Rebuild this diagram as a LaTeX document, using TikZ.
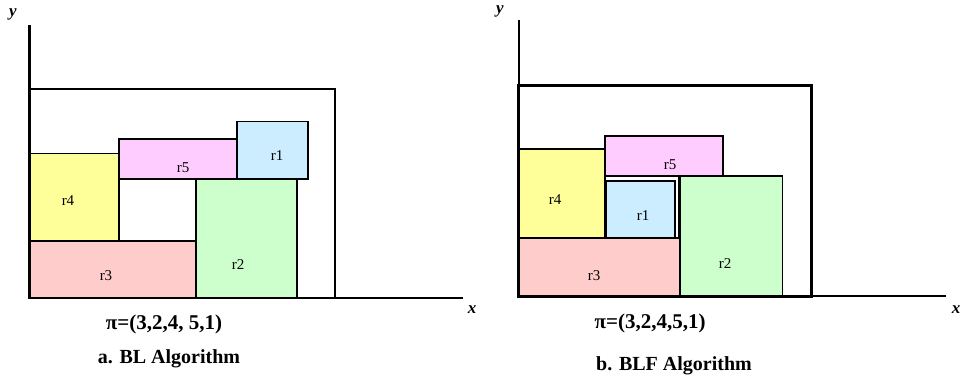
\documentclass[tikz,border=0pt]{standalone}
\usepackage{fontspec}
\setmainfont{Liberation Serif}
\begin{document}
\begin{tikzpicture}[x=1pt,y=-1pt,
  blk/.style={draw=black,line width=1.6pt},
  thinblk/.style={draw=black,line width=1.1pt},
  lbl/.style={font=\fontsize{15}{15}\selectfont,inner sep=0pt},
  axlbl/.style={font=\fontsize{17}{17}\selectfont\bfseries\itshape,inner sep=0pt},
  perm/.style={font=\fontsize{21}{21}\selectfont\bfseries,inner sep=0pt},
  captext/.style={font=\fontsize{20}{20}\selectfont\bfseries,inner sep=0pt}]
\definecolor{cR1}{HTML}{CCECFF}
\definecolor{cR2}{HTML}{CCFFCC}
\definecolor{cR3}{HTML}{FFCCCC}
\definecolor{cR4}{HTML}{FFFF99}
\definecolor{cR5}{HTML}{FFCCFF}
\useasboundingbox (0,0) rectangle (960,379);

% ---------- a. BL placement ----------
\coordinate (aO) at (29.5,298);
\coordinate (aY) at (29.5,25);
\coordinate (aX) at (463,298);
\fill[cR3] (29.5,241) rectangle (196,298);
\fill[cR4] (29.5,153.5) rectangle (119,241);
\fill[cR2] (196,179) rectangle (297,298);
\fill[cR5] (119,139) rectangle (237,179);
\fill[cR1] (237,121.5) rectangle (308,179);
\draw[thinblk] (29.5,241) rectangle (196,298);
\draw[thinblk] (29.5,153.5) rectangle (119,241);
\draw[blk] (196,179) rectangle (297,298);
\draw[blk] (119,139) rectangle (237,179);
\draw[blk] (237,121.5) rectangle (308,179);
\draw[line width=2pt] (29.5,89.5) rectangle (335,298);
\draw[line width=2.2pt] (aY) -- (aO) -- (aX);
\node[lbl] (a1) at (277,156) {r1};
\node[lbl] (a5) at (183,168) {r5};
\node[lbl] (a4) at (68,201) {r4};
\node[lbl] (a2) at (238,265) {r2};
\node[lbl] (a3) at (106,276) {r3};
\node[axlbl] (ay) at (13,14) {y};
\node[axlbl] (ax) at (472,310) {x};
\node[perm] (ap) at (164,324) {π=(3,2,4, 5,1)};
\node[captext] (ac) at (169,359) {a. BL Algorithm};

% ---------- b. BLF placement ----------
\coordinate (bO) at (519,296);
\coordinate (bY) at (519,20);
\coordinate (bX) at (946,296);
\fill[cR3] (518,238) rectangle (680,296);
\fill[cR4] (518,149) rectangle (605,238);
\fill[cR2] (680,176) rectangle (782.5,296);
\fill[cR5] (605,136) rectangle (723,176);
\fill[cR1] (606,181) rectangle (675,238);
\draw[thinblk] (518,238) rectangle (680,296);
\draw[blk] (518,149) rectangle (605,238);
\draw[blk] (680,176) rectangle (782.5,296);
\draw[blk] (605,136) rectangle (723,176);
\draw[line width=1.4pt] (605,176) -- (679,176) -- (679,238);
\draw[blk] (606,238) -- (606,181) -- (675,181) -- (675,238);
\draw[line width=1.4pt] (bY) -- (519,86);
\draw[line width=3pt] (518,86) rectangle (811.5,296);
\draw[line width=2.6pt] (bO) -- (bX);
\node[lbl] (b1) at (643,216) {r1};
\node[lbl] (b5) at (670,165) {r5};
\node[lbl] (b4) at (555,200) {r4};
\node[lbl] (b2) at (725,264) {r2};
\node[lbl] (b3) at (594,276) {r3};
\node[axlbl] (by) at (500,11) {y};
\node[axlbl] (bx) at (956,310) {x};
\node[perm] (bp) at (650,323) {π=(3,2,4,5,1)};
\node[captext] (bc) at (674,366) {b. BLF Algorithm};
\end{tikzpicture}
\end{document}
